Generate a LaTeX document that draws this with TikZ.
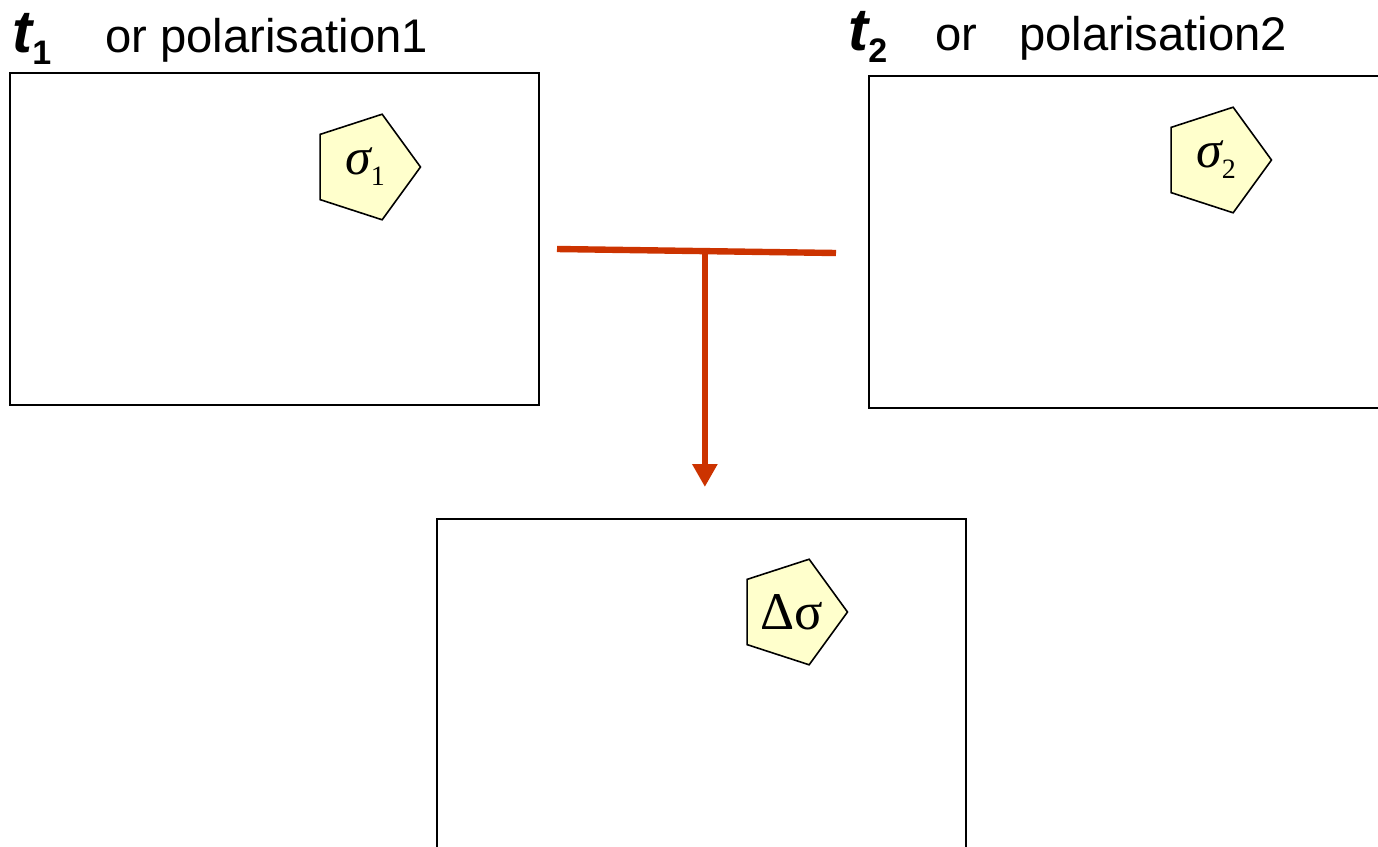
\documentclass[tikz,border=0pt]{standalone}
\usepackage{fontspec}
\setmainfont{Liberation Sans}
\newfontfamily\greekfont{Liberation Serif}
\usetikzlibrary{calc}
\usetikzlibrary{shapes.geometric}
\usetikzlibrary{arrows.meta}
\definecolor{sred}{HTML}{CC3300}
\definecolor{pent}{HTML}{FFFFCC}
\newcommand\tlab[1]{\fontsize{30}{30}\selectfont\bfseries\itshape t\raisebox{-6pt}{\fontsize{17}{17}\selectfont\upshape #1}}
\newcommand\plab[1]{\fontsize{23.6}{23.6}\selectfont #1}
\newcommand\sig[1]{\greekfont\fontsize{26}{26}\selectfont\itshape σ\raisebox{-5.5pt}{\fontsize{14}{14}\selectfont\upshape #1}}

\begin{document}
\begin{tikzpicture}[
        x=0.5pt, y=-0.5pt,
        F/.style={draw, line width=0.75pt, minimum width=264.5pt, minimum height=166pt, inner sep=0pt, outer sep=0pt, anchor=north west},
        P/.style={regular polygon, regular polygon sides=5, shape border rotate=-90, draw, line width=0.8pt, fill=pent, minimum size=55.5pt, inner sep=0pt},
        L/.style={anchor=base west, inner sep=0pt},
        R/.style={draw=sred, line width=3.2pt}
    ]
    \useasboundingbox (0,0) rectangle (1378,847);
    \clip (0,0) rectangle (1378,847);

    \node[F] (frame1) at (10,73) {};
    \node[F] (frame2) at (869,76) {};
    \node[F] (diff) at (437,519) {};

    \node[P] (sig1) at (365,167) {\sig{1}};
    \node[P] (sig2) at (1216,160) {\sig{2}};
    \node[P] (dsig) at (792,612) {\greekfont\fontsize{26.5}{26.5}\selectfont Δσ};

    \node[L] (t1) at (12,52) {\tlab{1}};
    \node[L] (pol1) at (105,52) {\plab{or polarisation1}};
    \node[L] (t2) at (848,50) {\tlab{2}};
    \node[L] (or2) at (935,50) {\plab{or}};
    \node[L] (pol2) at (1019,50) {\plab{polarisation2}};

    \coordinate (join-l) at (557,249);
    \coordinate (join-r) at (836,253);
    \coordinate (join) at ($(join-l)!0.53!(join-r)$);
    \draw[R] (join-l) -- (join-r);
    \draw[R, -{Triangle[length=11.5pt, width=12pt]}] (join) -- ($(diff.north -| join)+(0,-32)$);
\end{tikzpicture}
\end{document}
